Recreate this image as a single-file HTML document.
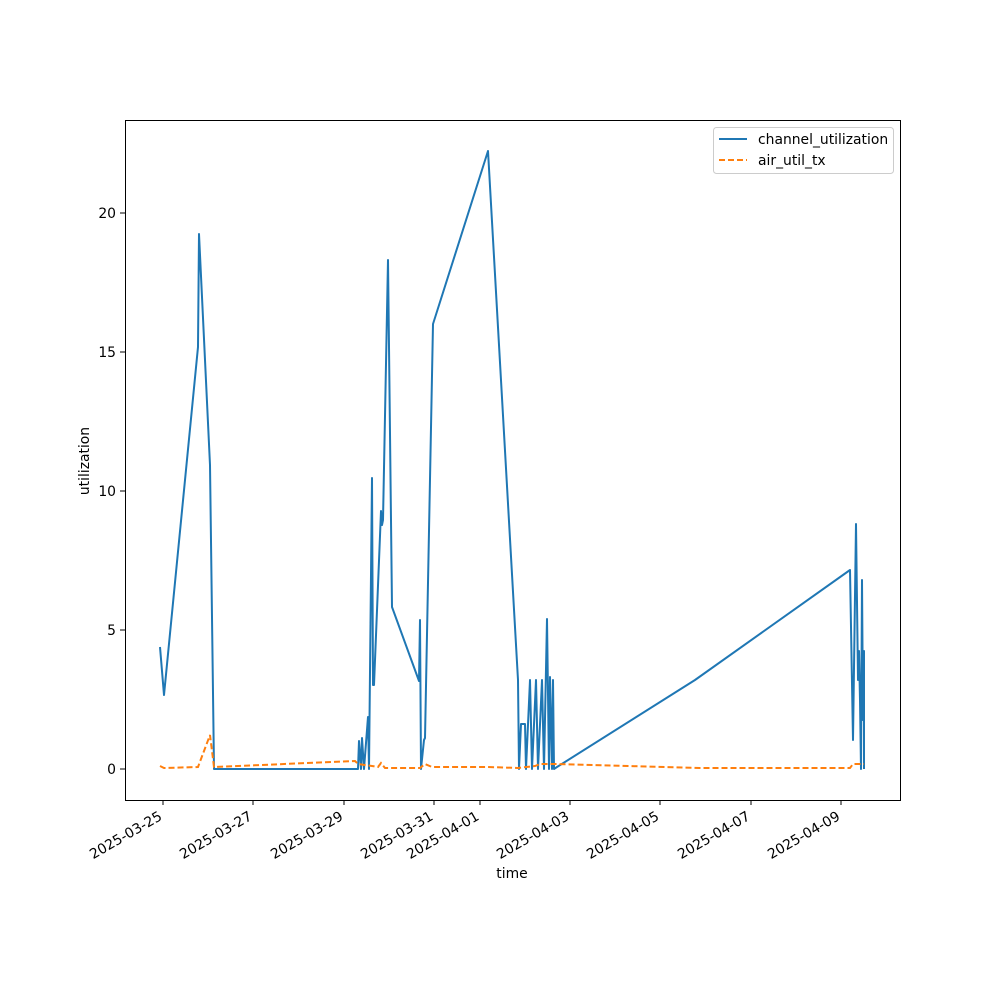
<!DOCTYPE html><html><head><style>body{margin:0;background:#fff}svg{font-family:"DejaVu Sans",sans-serif}</style></head><body>
<svg width="1000" height="1000" xmlns="http://www.w3.org/2000/svg">
<rect x="125.5" y="120.5" width="775" height="680" fill="none" stroke="#000" stroke-width="1"/>
<g stroke="#000">
<line x1="120" x2="125" y1="769" y2="769"/><line x1="120" x2="125" y1="630" y2="630"/><line x1="120" x2="125" y1="491" y2="491"/><line x1="120" x2="125" y1="352" y2="352"/><line x1="120" x2="125" y1="213" y2="213"/>
<line x1="163" x2="163" y1="800" y2="805"/><line x1="253" x2="253" y1="800" y2="805"/><line x1="344" x2="344" y1="800" y2="805"/><line x1="434" x2="434" y1="800" y2="805"/><line x1="480" x2="480" y1="800" y2="805"/><line x1="570" x2="570" y1="800" y2="805"/><line x1="660" x2="660" y1="800" y2="805"/><line x1="751" x2="751" y1="800" y2="805"/><line x1="841" x2="841" y1="800" y2="805"/>
</g>
<g font-size="13.9" text-anchor="end">
<text x="116" y="774">0</text><text x="116" y="635">5</text><text x="116" y="496">10</text><text x="116" y="357">15</text><text x="116" y="218">20</text>
</g>
<g font-size="13.9" text-anchor="end">
<text transform="translate(163,819) rotate(-30)">2025-03-25</text>
<text transform="translate(253,819) rotate(-30)">2025-03-27</text>
<text transform="translate(344,819) rotate(-30)">2025-03-29</text>
<text transform="translate(434,819) rotate(-30)">2025-03-31</text>
<text transform="translate(480,819) rotate(-30)">2025-04-01</text>
<text transform="translate(570,819) rotate(-30)">2025-04-03</text>
<text transform="translate(660,819) rotate(-30)">2025-04-05</text>
<text transform="translate(751,819) rotate(-30)">2025-04-07</text>
<text transform="translate(841,819) rotate(-30)">2025-04-09</text>
</g>
<text x="512" y="878" font-size="13.9" text-anchor="middle">time</text>
<text transform="translate(89,461) rotate(-90)" font-size="13.9" text-anchor="middle">utilization</text>
<polyline fill="none" stroke="#1f77b4" stroke-width="2" stroke-linejoin="round" points="160,647 164,695 198,347 199,234 210,465 214,769 358,769 359,741 361,769 362,738 364,769 368,717 369,769 372,478 373,685 374,685 381,511 382,525 383,520 388,260 392,607 419,681 420,620 421,769 424,740 425,738 433,324 488,151 518,680 519,769 521,724 525,724 526,769 530,680 532,769 536,680 538,769 542,680 544,769 547,619 549,769 550,677 552,769 553,680 554,769 557,767 695,680 850,570 853,740 856,524 858,680 859,651 860,700 861,769 862,580 863,720 864,651 864,769"/>
<polyline fill="none" stroke="#ff7f0e" stroke-width="2" stroke-dasharray="6,3" points="160,766 164,768 198,767 210,735 214,767 355,761 358,764 372,766 378,767 381,763 385,768 420,768 425,764 432,767 488,767 518,768 535,766 540,764 557,764 700,768 850,768 853,764 864,764"/>
<rect x="713.5" y="127.5" width="180" height="46" rx="3" fill="#fff" stroke="#ccc"/>
<line x1="719" x2="747" y1="139" y2="139" stroke="#1f77b4" stroke-width="2"/>
<line x1="719" x2="747" y1="160" y2="160" stroke="#ff7f0e" stroke-width="2" stroke-dasharray="6,3"/>
<text x="758" y="144" font-size="13.9">channel_utilization</text>
<text x="758" y="165" font-size="13.9">air_util_tx</text>
</svg></body></html>
